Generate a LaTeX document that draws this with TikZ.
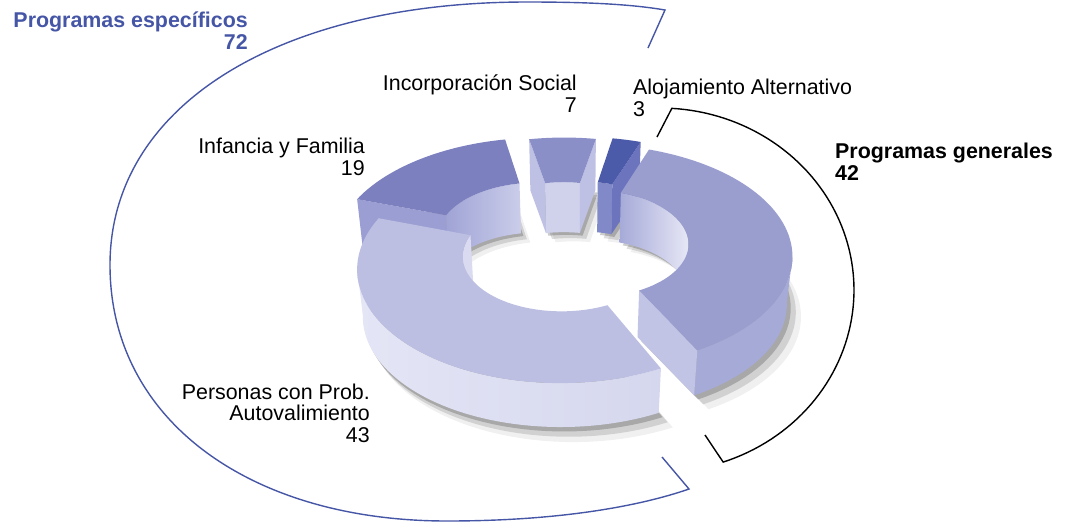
\documentclass[tikz,border=0pt]{standalone}
\usepackage{fontspec}
\setmainfont{Liberation Sans}
\definecolor{specblue}{RGB}{70,86,166}
\definecolor{perTop}{RGB}{188,191,225}
\definecolor{perSide}{RGB}{213,215,238}
\definecolor{perSideL}{RGB}{228,229,245}
\definecolor{perIn}{RGB}{218,219,240}
\definecolor{genTop}{RGB}{154,158,207}
\definecolor{genSide}{RGB}{166,170,215}
\definecolor{genEnd}{RGB}{193,196,228}
\definecolor{genInL}{RGB}{166,170,216}
\definecolor{genInR}{RGB}{230,231,245}
\definecolor{infTop}{RGB}{124,128,191}
\definecolor{infEnd}{RGB}{154,158,210}
\definecolor{infInL}{RGB}{160,164,213}
\definecolor{infInR}{RGB}{203,205,234}
\definecolor{incTop}{RGB}{139,143,200}
\definecolor{incEnd}{RGB}{190,193,228}
\definecolor{incIn}{RGB}{208,210,236}
\definecolor{aloTop}{RGB}{75,90,169}
\definecolor{aloEnd}{RGB}{108,116,190}
\definecolor{aloIn}{RGB}{130,137,200}
\def\rin{0.49}
% top face: ox oy a b color
\newcommand\tface[5]{%
  \fill[#5] plot[domain=#3:#4,samples=60,variable=\t]
    ({sx(#1+cos(\t),#2+sin(\t),0)},{sy(#1+cos(\t),#2+sin(\t),0)})
    -- plot[domain=#4:#3,samples=60,variable=\t]
    ({sx(#1+\rin*cos(\t),#2+\rin*sin(\t),0)},{sy(#1+\rin*cos(\t),#2+\rin*sin(\t),0)})
    -- cycle;}
% wall: ox oy radius a b options
\newcommand\wall[6]{%
  \path[#6] plot[domain=#4:#5,samples=50,variable=\t]
    ({sx(#1+#3*cos(\t),#2+#3*sin(\t),0)},{sy(#1+#3*cos(\t),#2+#3*sin(\t),0)})
    -- plot[domain=#5:#4,samples=50,variable=\t]
    ({sxb(#1+#3*cos(\t),#2+#3*sin(\t))},{syb(#1+#3*cos(\t),#2+#3*sin(\t))})
    -- cycle;}
% end face: ox oy angle color
\newcommand\eface[4]{%
  \fill[#4] ({sx(#1+cos(#3),#2+sin(#3),0)},{sy(#1+cos(#3),#2+sin(#3),0)})
    -- ({sx(#1+\rin*cos(#3),#2+\rin*sin(#3),0)},{sy(#1+\rin*cos(#3),#2+\rin*sin(#3),0)})
    -- ({sxb(#1+\rin*cos(#3),#2+\rin*sin(#3))},{syb(#1+\rin*cos(#3),#2+\rin*sin(#3))})
    -- ({sxb(#1+cos(#3),#2+sin(#3))},{syb(#1+cos(#3),#2+sin(#3))})
    -- cycle;}
% shadow (bottom face): ox oy a b options
\newcommand\shad[5]{%
  \fill[#5] plot[domain=#3:#4,samples=50,variable=\t]
    ({sxb(#1+cos(\t),#2+sin(\t))},{syb(#1+cos(\t),#2+sin(\t))})
    -- plot[domain=#4:#3,samples=50,variable=\t]
    ({sxb(#1+\rin*cos(\t),#2+\rin*sin(\t))},{syb(#1+\rin*cos(\t),#2+\rin*sin(\t))})
    -- cycle;}
\newcommand\allshad[3]{% dx dy options
  \shad{-0.068+#1}{0.083+#2}{79.5}{101.6}{#3}
  \shad{0.028+#1}{0.09+#2}{70}{79.5}{#3}
  \shad{-0.206+#1}{0.08+#2}{101.6}{161.6}{#3}
  \shad{0.071+#1}{0+#2}{-62.6}{70}{#3}
  \shad{-0.066+#1}{-0.11+#2}{161.6}{295.5}{#3}}
\begin{document}
\begin{tikzpicture}[x=1pt,y=-1pt,
  declare function={
    wd(\xa,\ya,\za)=6+0.8387*(\ya)-0.5446*(\za);
    sx(\xa,\ya,\za)=576+1200*(\xa)/wd(\xa,\ya,\za);
    sy(\xa,\ya,\za)=240-1200*(0.5446*(\ya)+0.8387*(\za))/wd(\xa,\ya,\za);
    hz(\ya)=0.295+0.044*(\ya);
    sxb(\xa,\ya)=sx(\xa,\ya,-hz(\ya));
    syb(\xa,\ya)=sy(\xa,\ya,-hz(\ya));
  },
  lbl/.style={font=\fontsize{21.4}{21.5}\selectfont, inner sep=0pt},
  hdr/.style={font=\fontsize{21.4}{21.5}\selectfont\bfseries, inner sep=0pt},
  bracket/.style={line width=1.4pt, line join=miter}]
\useasboundingbox (0,0) rectangle (1066,523);
% shadows
\allshad{0.015}{-0.03}{black, opacity=0.2}
\allshad{0.035}{-0.065}{black, opacity=0.13}
\allshad{0.055}{-0.1}{black, opacity=0.06}
% Incorporacion Social
\wall{-0.068}{0.083}{\rin}{79.5}{101.6}{fill=incIn}
\eface{-0.068}{0.083}{101.6}{incEnd}
\eface{-0.068}{0.083}{79.5}{incEnd}
\tface{-0.068}{0.083}{79.5}{101.6}{incTop}
% Alojamiento Alternativo
\wall{0.028}{0.09}{\rin}{70}{79.5}{fill=aloIn}
\eface{0.028}{0.09}{70}{aloEnd}
\tface{0.028}{0.09}{70}{79.5}{aloTop}
% Infancia y Familia
\wall{-0.206}{0.08}{\rin}{101.6}{161.6}{left color=infInL, right color=infInR}
\eface{-0.206}{0.08}{161.6}{infEnd}
\tface{-0.206}{0.08}{101.6}{161.6}{infTop}
% Programas generales
\wall{0.071}{0}{\rin}{-10}{70}{left color=genInL, right color=genInR}
\wall{0.071}{0}{1}{-62.6}{-8}{fill=genSide}
\eface{0.071}{0}{-62.6}{genEnd}
\tface{0.071}{0}{-62.6}{70}{genTop}
% Personas con Prob. Autovalimiento
\wall{-0.066}{-0.11}{\rin}{161.6}{190}{fill=perIn}
\wall{-0.066}{-0.11}{1}{188}{295.5}{left color=perSideL, right color=perSide}
\tface{-0.066}{-0.11}{161.6}{295.5}{perTop}
% labels (anchor at baseline of the last line)
\node[hdr, text=specblue, align=right, anchor=base east] (pesp) at (248,49) {Programas específicos\\72};
\node[lbl, align=right, anchor=base east] (linc) at (577,112) {Incorporación Social\\7};
\node[lbl, align=left, anchor=base west] (lalo) at (633,116) {Alojamiento Alternativo\\3};
\node[lbl, align=right, anchor=base east] (linf) at (365,175) {Infancia y Familia\\19};
\node[hdr, align=left, anchor=base west] (pgen) at (835,180) {Programas generales\\42};
\node[lbl, align=right, anchor=base east] (lper) at (370,442) {Personas con Prob.\\Autovalimiento\\43};
% brackets
\coordinate (bt1) at (648,48);
\coordinate (bc1) at (665,10);
\coordinate (bc2) at (689,489);
\coordinate (bt2) at (662,457);
\draw[bracket, specblue] (bt1) -- (bc1) .. controls (630,4) and (585,2) .. (527,2)
  .. controls (280,2) and (110,105) .. (110,265)
  .. controls (110,420) and (250,521) .. (447,521)
  .. controls (560,521) and (640,506) .. (bc2) -- (bt2);
\coordinate (kt1) at (657,137);
\coordinate (kt2) at (705,435);
\draw[bracket, black] (kt1) -- plot[domain=86.5:-71,samples=80,variable=\t] ({660+194*cos(\t)},{290-182*sin(\t)}) -- (kt2);
\end{tikzpicture}
\end{document}
